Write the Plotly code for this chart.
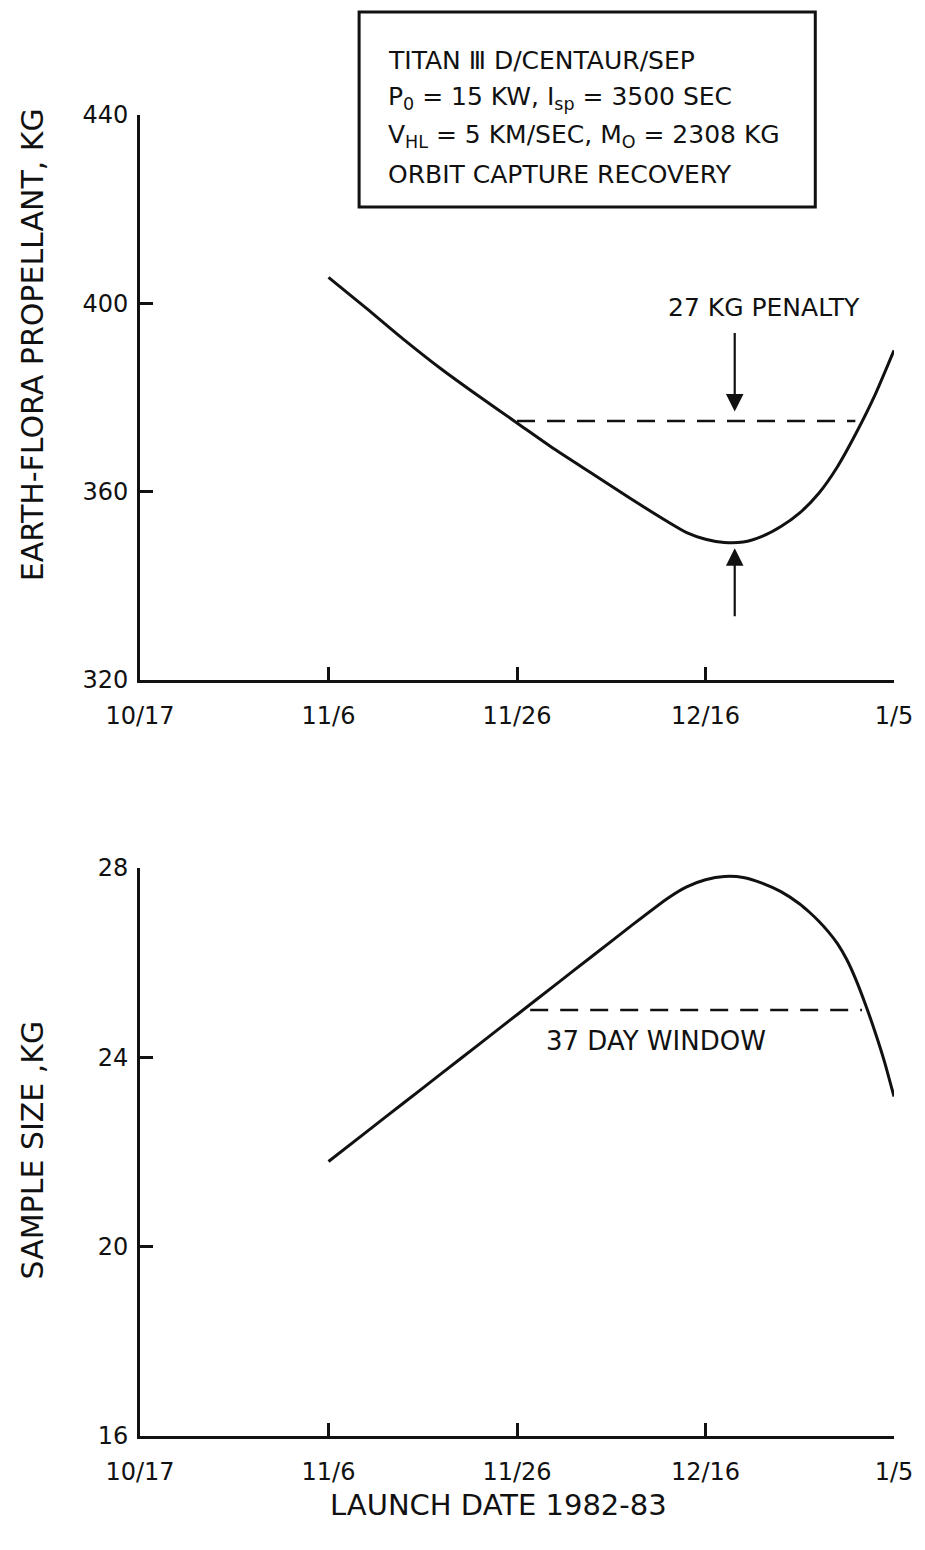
import plotly.graph_objects as go

# ---- data (days after 10/17/1982) ----
tick_days = [0, 20, 40, 60, 80]
tick_labels = ["10/17", "11/6", "11/26", "12/16", "1/5"]

prop_days = [20, 24, 28, 32, 36, 40, 44, 48, 52, 56, 58, 60, 62, 64, 66, 68, 70, 72, 74, 76, 78, 80]
prop_kg = [405.5, 399.0, 392.3, 386.0, 380.2, 374.6, 369.0, 363.8, 358.6, 353.6, 351.3,
           349.9, 349.2, 349.3, 350.5, 352.6, 355.5, 359.6, 365.3, 372.5, 380.6, 390.0]

sample_days = [20, 24, 28, 32, 36, 40, 44, 48, 52, 56, 58, 60, 62, 64, 66, 68, 70, 71, 72, 73, 74, 75, 76, 77, 78, 79, 80]
sample_kg = [21.8, 22.42, 23.04, 23.66, 24.28, 24.9, 25.52, 26.14, 26.76, 27.36, 27.6,
             27.75, 27.82, 27.8, 27.68, 27.5, 27.24, 27.07, 26.88, 26.66, 26.4, 26.06, 25.62, 25.1, 24.53, 23.9, 23.17]

penalty_days = [40.0, 75.9]
penalty_kg = [375, 375]
window_days = [41.4, 76.6]
window_kg = [25, 25]

prop_ticks = [320, 360, 400, 440]
sample_ticks = [16, 20, 24, 28]

FONT = "DejaVu Sans"
BLACK = "#111111"

fig = go.Figure()
fig.add_trace(go.Scatter(x=prop_days, y=prop_kg, mode="lines", line=dict(color=BLACK, width=3, shape="spline", smoothing=0.6),
                         xaxis="x", yaxis="y", showlegend=False))
fig.add_trace(go.Scatter(x=penalty_days, y=penalty_kg, mode="lines", line=dict(color=BLACK, width=2.5, dash="18px,12px"),
                         xaxis="x", yaxis="y", showlegend=False))
fig.add_trace(go.Scatter(x=sample_days, y=sample_kg, mode="lines", line=dict(color=BLACK, width=3, shape="spline", smoothing=0.6),
                         xaxis="x2", yaxis="y2", showlegend=False))
fig.add_trace(go.Scatter(x=window_days, y=window_kg, mode="lines", line=dict(color=BLACK, width=2.5, dash="18px,12px"),
                         xaxis="x2", yaxis="y2", showlegend=False))

axis_common = dict(showline=True, linewidth=3, linecolor=BLACK, ticks="inside", ticklen=13, tickwidth=2.5,
                   tickcolor=BLACK, showgrid=False, zeroline=False,
                   tickfont=dict(family=FONT, size=24, color=BLACK))

fig.update_layout(
    width=925, height=1550,
    margin=dict(l=140, r=28, t=115, b=114),
    paper_bgcolor="white", plot_bgcolor="white",
    xaxis=dict(domain=[0, 1], anchor="y", range=[0, 80], tickvals=tick_days, ticktext=tick_labels,
               ticklabelstandoff=12, **axis_common),
    yaxis=dict(domain=[0.5723, 1], anchor="x", range=[320, 440], tickvals=prop_ticks,
               ticklabelstandoff=4, **axis_common),
    xaxis2=dict(domain=[0, 1], anchor="y2", range=[0, 80], tickvals=tick_days, ticktext=tick_labels,
                ticklabelstandoff=12, **axis_common),
    yaxis2=dict(domain=[0, 0.43], anchor="x2", range=[16, 28], tickvals=sample_ticks,
                ticklabelstandoff=4, **axis_common),
)

ann = []
# axis titles
ann.append(dict(text="EARTH-FLORA PROPELLANT, KG", xref="paper", yref="paper", x=-0.1427, y=0.826,
                xanchor="center", yanchor="middle",
                textangle=-90, showarrow=False, font=dict(family=FONT, size=30, color=BLACK)))
ann.append(dict(text="SAMPLE SIZE ,KG", xref="paper", yref="paper", x=-0.1427, y=0.2165,
                xanchor="center", yanchor="middle",
                textangle=-90, showarrow=False, font=dict(family=FONT, size=30, color=BLACK)))
ann.append(dict(text="LAUNCH DATE 1982-83", xref="paper", yref="paper", x=0.4756, y=-0.0522,
                xanchor="center", yanchor="middle",
                showarrow=False, font=dict(family=FONT, size=29, color=BLACK)))

# info box text
box_lines = [
    "TITAN Ⅲ D/CENTAUR/SEP",
    "P<sub>0</sub> = 15 KW, I<sub>sp</sub> = 3500 SEC",
    "V<sub>HL</sub> = 5 KM/SEC, M<sub>O</sub> = 2308 KG",
    "ORBIT CAPTURE RECOVERY",
]
box_y = [1.0416, 1.0129, 0.9841, 0.9553]
for t, yy in zip(box_lines, box_y):
    ann.append(dict(text=t, xref="paper", yref="paper", x=0.3263, y=yy, xanchor="left", yanchor="middle",
                    showarrow=False, font=dict(family=FONT, size=25, color=BLACK)))

# chart notes
ann.append(dict(text="27 KG PENALTY", xref="x", yref="y", x=66.2, y=399.2, showarrow=False,
                font=dict(family=FONT, size=25, color=BLACK)))
ann.append(dict(text="37 DAY WINDOW", xref="x2", yref="y2", x=54.8, y=24.34, showarrow=False,
                font=dict(family=FONT, size=26, color=BLACK)))
# arrows
ann.append(dict(text="", xref="x", yref="y", axref="x", ayref="y", x=63.1, y=377.0, ax=63.1, ay=394.0,
                showarrow=True, arrowhead=2, arrowsize=1.6, arrowwidth=2.2, arrowcolor=BLACK, standoff=0))
ann.append(dict(text="", xref="x", yref="y", axref="x", ayref="y", x=63.1, y=348.0, ax=63.1, ay=333.2,
                showarrow=True, arrowhead=2, arrowsize=1.6, arrowwidth=2.2, arrowcolor=BLACK, standoff=0))
fig.update_layout(annotations=ann)

fig.add_shape(type="rect", xref="paper", yref="paper", x0=0.2906, x1=0.8956, y0=0.9304, y1=1.078,
              line=dict(color=BLACK, width=3), fillcolor="rgba(0,0,0,0)")

fig.write_html("out.html")
